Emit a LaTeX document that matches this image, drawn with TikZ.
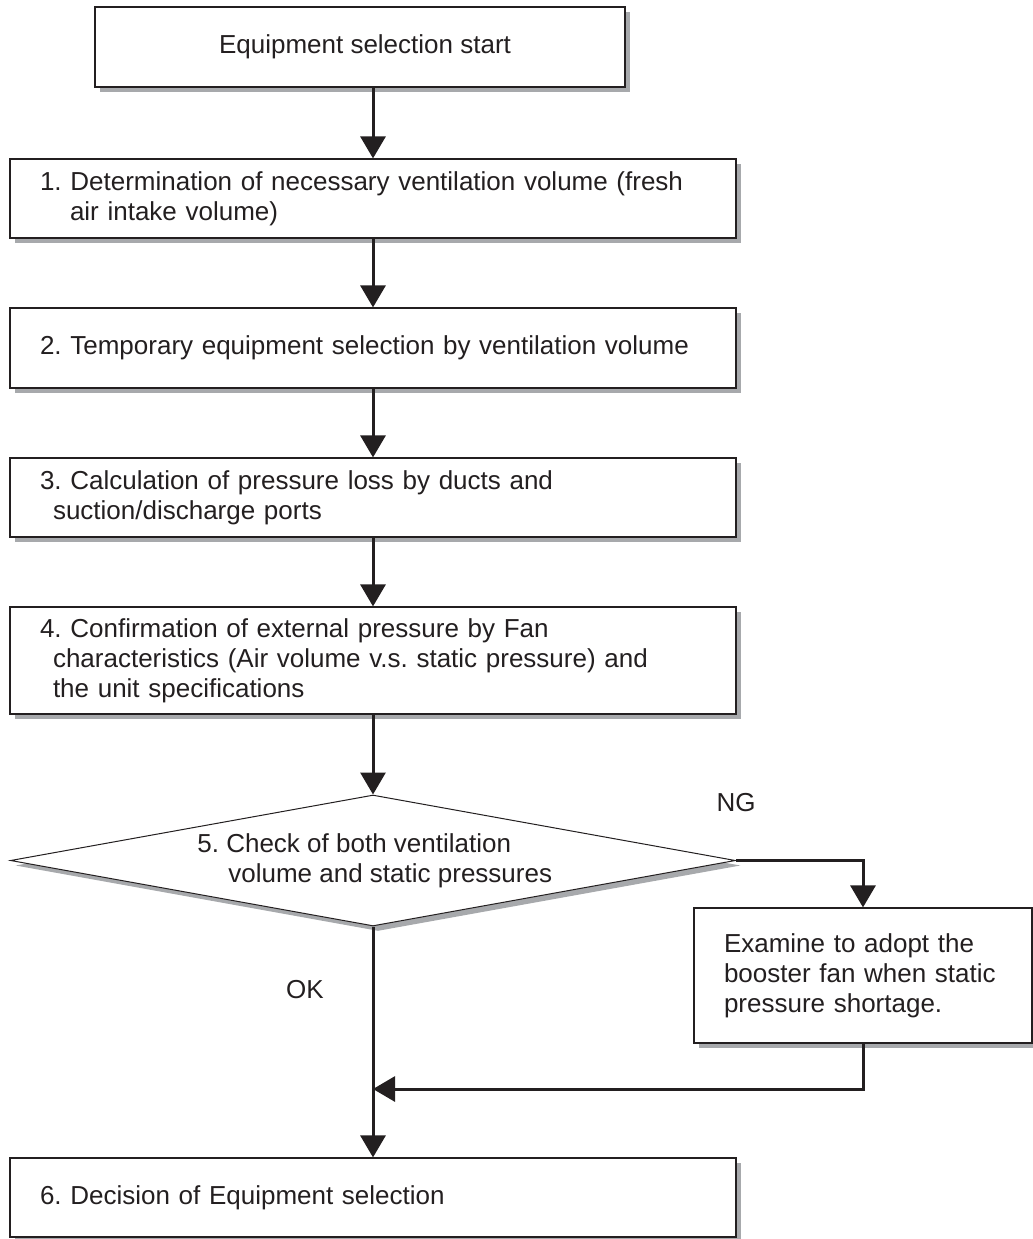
\documentclass[tikz,border=0pt]{standalone}
\usepackage{fontspec}
\setmainfont{Liberation Sans}
\usetikzlibrary{shapes.geometric,arrows.meta,shadows}
\definecolor{ink}{HTML}{231F20}
\definecolor{shade}{HTML}{A7A9AC}
\frenchspacing
\begin{document}
\begin{tikzpicture}[x=0.5pt,y=-0.5pt,
  font=\fontsize{13}{15}\selectfont\frenchspacing, text=ink,
  shd/.style={drop shadow={shadow xshift=2.5pt, shadow yshift=-2.5pt, fill=shade, opacity=1}},
  box/.style={draw=ink, line width=0.6pt, fill=white, rectangle, inner xsep=15pt, inner ysep=0pt, shd},
  lbox/.style={box, minimum width=363pt, text width=333pt, align=left},
  flow/.style={draw=ink, line width=1.5pt, -{Triangle[length=11pt,width=12.5pt]}},
  lbl/.style={inner sep=0pt}]
\useasboundingbox (0,0) rectangle (1033,1239);

\node[box, minimum width=265pt, minimum height=40pt, align=center] (start) at (360,47) {\hspace*{5pt}Equipment selection start};

\node[lbox, minimum height=39.5pt] (b1) at (373,198.5)
  {1. Determination of necessary ventilation volume (fresh\\\hspace*{15pt}air intake volume)};
\node[lbox, minimum height=40pt] (b2) at (373,348)
  {2. Temporary equipment selection by ventilation volume};
\node[lbox, minimum height=39.5pt] (b3) at (373,497.5)
  {3. Calculation of pressure loss by ducts and\\\hspace*{6.5pt}suction/discharge ports};
\node[lbox, minimum height=53.5pt] (b4) at (373,660.5)
  {4. Confirmation of external pressure by Fan\\\hspace*{6.5pt}characteristics (Air volume v.s. static pressure) and\\\hspace*{6.5pt}the unit specifications};

\node[draw=ink, line width=0.5pt, fill=white, diamond, minimum width=362.5pt, minimum height=65.5pt, inner sep=0pt, shd] (d) at (373,860.5) {};
\node[lbl, anchor=west, align=left] (dtext) at (197,860.5)
  {5. Check of both ventilation\\\hspace*{15.5pt}volume and static pressures};

\node[box, minimum width=169pt, minimum height=67.5pt, text width=139pt, align=left] (ex) at (863,975.5)
  {Examine to adopt the\\booster fan when static\\pressure shortage.};

\node[lbox, minimum height=39.5pt] (b6) at (373,1197.5)
  {6. Decision of Equipment selection};

\node[lbl] (ng) at (736,803) {NG};
\node[lbl] (ok) at (305,990) {OK};

\coordinate (m) at (373,1089);

\draw[flow] (start.south -| b1.north) -- (b1.north);
\draw[flow] (b1) -- (b2);
\draw[flow] (b2) -- (b3);
\draw[flow] (b3) -- (b4);
\draw[flow] (b4) -- (d);
\draw[flow] (d.east) -| (ex.north);
\draw[flow] (d.south) -- (b6.north);
\draw[flow] (ex.south) |- (m);
\end{tikzpicture}
\end{document}
